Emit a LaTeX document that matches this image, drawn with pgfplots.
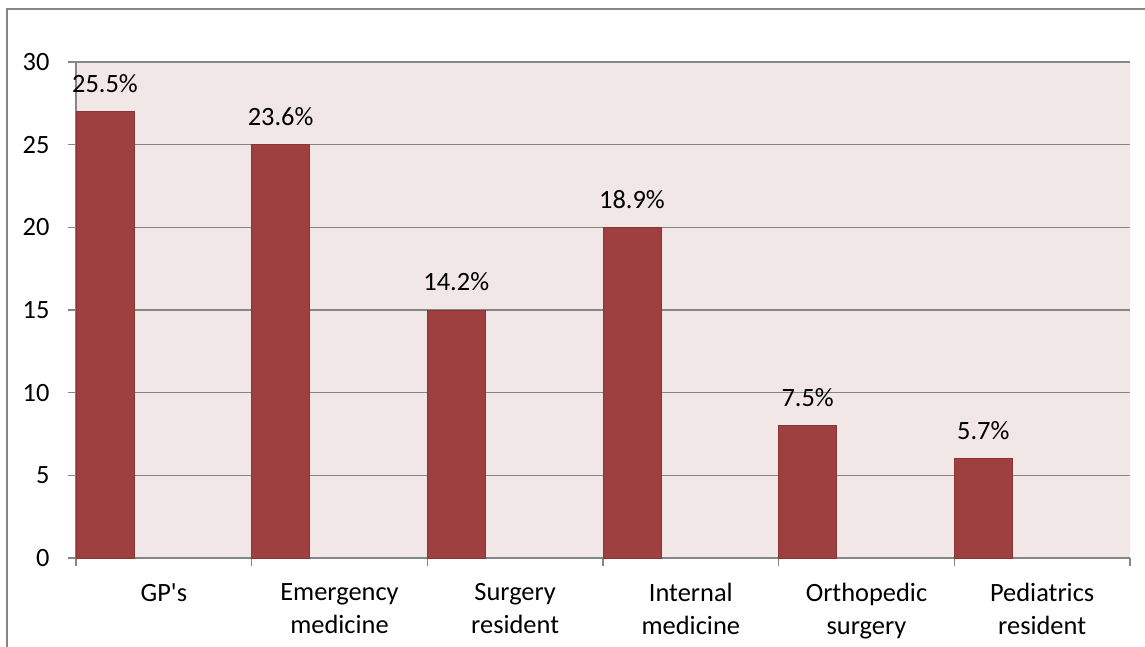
\documentclass[border=0pt]{standalone}
\usepackage{fontspec}
\setmainfont{Carlito}
\usepackage{pgfplots}
\pgfplotsset{compat=1.18}
\definecolor{barred}{RGB}{157,64,63}
\definecolor{baredge}{RGB}{140,52,51}
\definecolor{bgpink}{RGB}{242,231,231}
\definecolor{gridgray}{RGB}{134,134,134}
\begin{document}
\fontsize{13.2}{16.5}\selectfont
\begin{tikzpicture}
\useasboundingbox (-38pt,-44.5pt) rectangle (534.5pt,279pt);
\draw[gridgray, line width=1pt] (-34.25pt,-50pt) -- (-34.25pt,274.5pt) -- (540pt,274.5pt);
\begin{axis}[at={(0,0)}, anchor=south west, scale only axis,
  width=527pt, height=248pt,
  xmin=0, xmax=6, ymin=0, ymax=30,
  axis background/.style={fill=bgpink},
  axis x line*=bottom, axis y line*=left,
  axis line style={gridgray, line width=0.75pt},
  ytick={0,5,...,30}, ymajorgrids,
  grid style={gridgray, line width=0.75pt},
  tick align=outside, major tick length=4pt,
  tick style={gridgray, line width=0.75pt},
  xtick={0,...,6}, xticklabels={},
  extra x ticks={0.5,1.5,2.5,3.5,4.5,5.5},
  extra x tick labels={GP\textquotesingle s, Emergency\\medicine, Surgery\\resident, Internal\\medicine, Orthopedic\\surgery, Pediatrics\\resident},
  extra x tick style={tick style={draw=none}, xticklabel style={align=center, anchor=north, yshift=-4pt, font=\fontsize{13.2}{16.5}\selectfont}},
  /pgf/number format/assume math mode=true,
  yticklabel style={font=\fontsize{13.2}{16.5}\selectfont, xshift=-4.7pt},
]
\addplot[ybar, bar width=0.33, bar shift=0pt, fill=barred, draw=baredge,
  nodes near coords, point meta=explicit symbolic,
  nodes near coords style={anchor=base, yshift=9.5pt, inner sep=0pt, black, font=\fontsize{13.2}{16.5}\selectfont}]
  coordinates {(0.165,27)[25.5\%] (1.165,25)[23.6\%] (2.165,15)[14.2\%] (3.165,20)[18.9\%] (4.165,8)[7.5\%] (5.165,6)[5.7\%]};
\end{axis}
\end{tikzpicture}
\end{document}
